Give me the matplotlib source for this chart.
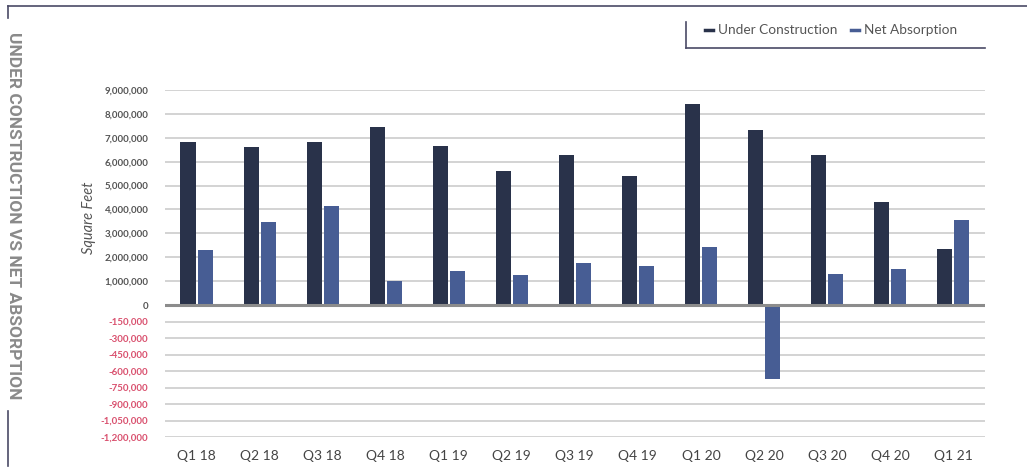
import numpy as np
import matplotlib
matplotlib.use("Agg")
import matplotlib.pyplot as plt
from matplotlib.lines import Line2D

plt.rcParams['font.family'] = ['Lato', 'DejaVu Sans']

quarters = ["Q1 18", "Q2 18", "Q3 18", "Q4 18", "Q1 19", "Q2 19", "Q3 19",
            "Q4 19", "Q1 20", "Q2 20", "Q3 20", "Q4 20", "Q1 21"]
under_construction = [6820000, 6610000, 6820000, 7450000, 6650000, 5600000, 6280000,
                      5400000, 8410000, 7320000, 6280000, 4310000, 2340000]
net_absorption = [2300000, 3470000, 4140000, 1000000, 1420000, 1250000, 1760000,
                  1630000, 2430000, -670000, 1300000, 1500000, 3560000]
pos_ticks = [0, 1000000, 2000000, 3000000, 4000000, 5000000, 6000000, 7000000, 8000000, 9000000]
neg_ticks = [-150000, -300000, -450000, -600000, -750000, -900000, -1050000, -1200000]

dark = "#29324a"
blue = "#475d94"
neg_red = "#d9506e"

# the negative half of the axis is stretched relative to the positive half
NEG_STRETCH = 1e6 / 217000.0


def fwd(y):
    y = np.asarray(y, dtype=float)
    return np.where(y >= 0, y / 1e6, y / 1e6 * NEG_STRETCH)


def inv(v):
    v = np.asarray(v, dtype=float)
    return np.where(v >= 0, v * 1e6, v * 1e6 / NEG_STRETCH)


fig = plt.figure(figsize=(10.27, 4.69), dpi=100)
ax = fig.add_axes([0.1607, 0.068, 0.798, 0.740])
ax.set_yscale('function', functions=(fwd, inv))

x = np.arange(len(quarters))
w = 0.24
ax.bar(x - 0.135, under_construction, width=w, color=dark, zorder=3)
ax.bar(x + 0.135, net_absorption, width=w, color=blue, zorder=3)

ax.set_xlim(-0.5, len(quarters) - 0.5)
ax.set_ylim(-1200000, 9000000)

ticks = neg_ticks[::-1] + pos_ticks
ax.set_yticks(ticks)
ax.set_yticklabels(["{:,}".format(t) for t in ticks])
for lbl, t in zip(ax.get_yticklabels(), ticks):
    lbl.set_color(neg_red if t < 0 else "#555555")
    lbl.set_fontsize(7)
    lbl.set_fontweight('bold')

for t in ticks:
    if t == 0:
        continue
    ax.axhline(t, color="#d0d0d0", lw=1.3, zorder=1)
ax.axhline(0, color="#8c8c8c", lw=2.2, zorder=4)

ax.set_xticks(x)
ax.set_xticklabels(quarters, fontsize=10, color="#444444")
ax.tick_params(axis='both', length=0)
ax.tick_params(axis='x', pad=9)
ax.tick_params(axis='y', pad=12)
for s in ax.spines.values():
    s.set_visible(False)

fig.text(0.087, 0.535, "Square Feet", rotation=90, style='italic', fontsize=10.5,
         color="#555555", ha='center', va='center')

# side title and frame lines
fig.text(0.0135, 0.54, "UNDER CONSTRUCTION VS NET ABSORPTION", rotation=-90,
         family=['Roboto', 'DejaVu Sans'], fontweight='bold',
         fontsize=12.5, color="#8a8a8a", ha='center', va='center')
frame = "#4a4a66"
fig.add_artist(Line2D([8 / 1027, 1.0], [1 - 6 / 469, 1 - 6 / 469], color=frame, lw=1.2))
fig.add_artist(Line2D([8 / 1027, 8 / 1027], [1 - 6 / 469, 1 - 18 / 469], color=frame, lw=1.2))
fig.add_artist(Line2D([8 / 1027, 8 / 1027], [1 - 411 / 469, 1 - 466 / 469], color=frame, lw=1.2))

# legend box lines
fig.add_artist(Line2D([686 / 1027, 686 / 1027], [1 - 22 / 469, 1 - 48 / 469], color=frame, lw=1.2))
fig.add_artist(Line2D([686 / 1027, 985 / 1027], [1 - 48 / 469, 1 - 48 / 469], color=frame, lw=1.2))
leg_y = 1 - 30 / 469
for x0, lab, c in [(705, "Under Construction", dark), (851, "Net Absorption", blue)]:
    fig.add_artist(Line2D([x0 / 1027, (x0 + 8) / 1027], [leg_y, leg_y], color=c, lw=2.5))
    fig.text((x0 + 13) / 1027, leg_y, lab, fontsize=9.8, color="#555555",
             ha='left', va='center')

fig.savefig("out.png", dpi=100)
